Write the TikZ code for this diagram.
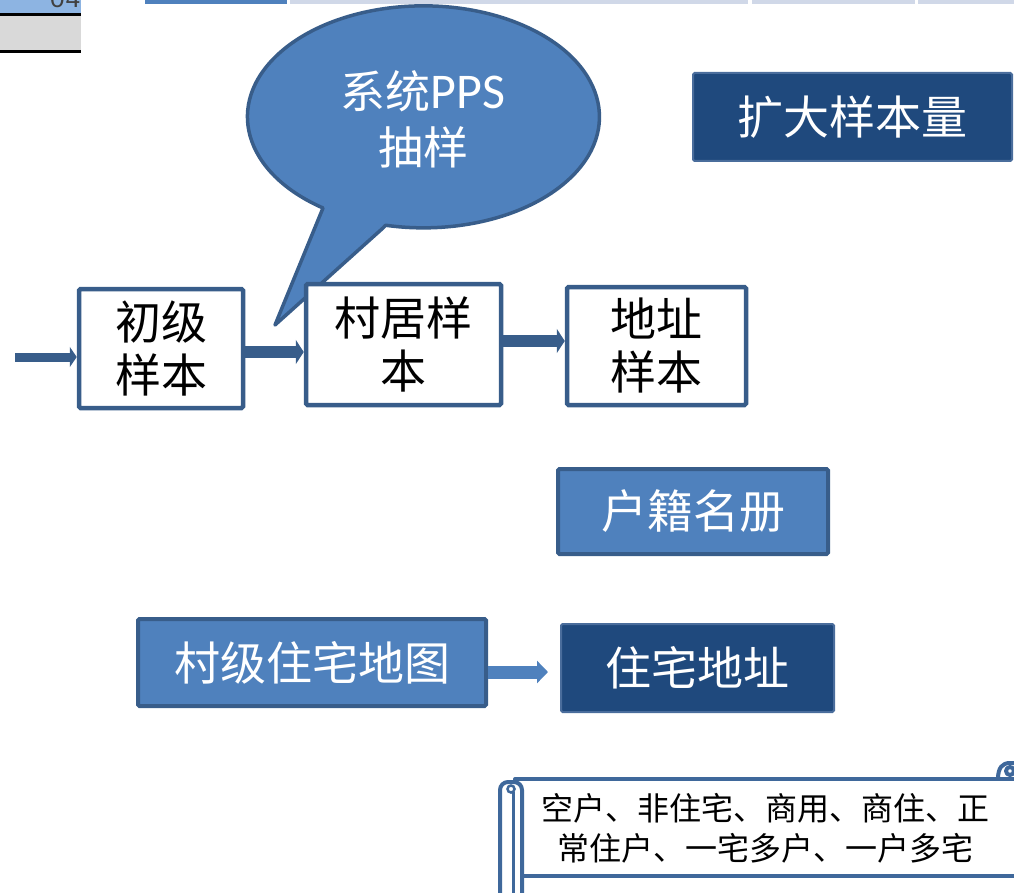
\documentclass[tikz,border=0pt]{standalone}
\usepackage{fontspec}
\setmainfont{Noto Sans CJK SC}
\newfontfamily\lat{Carlito}
\newfontfamily\mono{Liberation Mono}
\usetikzlibrary{arrows.meta,calc}
\definecolor{bdr}{HTML}{385D8A}
\definecolor{mid}{HTML}{4F81BD}
\definecolor{dk}{HTML}{1F497D}
\definecolor{dkline}{HTML}{4A6D9C}
\definecolor{cellblue}{HTML}{8DB4E2}
\definecolor{cellgray}{HTML}{D9D9D9}
\definecolor{barlight}{HTML}{D0D8E8}
\definecolor{scrollc}{HTML}{3F689B}
\tikzset{
  big/.style={font=\fontsize{46}{53}\selectfont, align=center, inner sep=0pt},
  wbox/.style={big, draw=bdr, line width=4.5pt, fill=white, text=black, rounded corners=1.5pt},
  lbox/.style={big, draw=bdr, line width=4pt, fill=mid, text=white, rounded corners=1.5pt},
  dbox/.style={big, draw=dkline, line width=2pt, fill=dk, text=white, rounded corners=1.5pt},
  flowa/.style={draw=bdr, line width=9pt, -{Triangle[length=7pt,width=20pt]}},
  flowb/.style={draw=bdr, line width=12pt, -{Triangle[length=8pt,width=24pt]}},
  flowc/.style={draw=mid, line width=13pt, -{Triangle[length=11pt,width=22pt]}},
  scrollline/.style={draw=scrollc, line width=4pt, fill=white, line join=round},
}
\begin{document}
\begin{tikzpicture}[x=1pt,y=-1pt]
\useasboundingbox (0,0) rectangle (1014,893);
% remnants of the slide above
\fill[cellblue] (0,-10) rectangle (81,13);
\node[anchor=south east, inner sep=0pt, font=\fontsize{26}{26}\selectfont\mono, text=black!75] (cellnum) at (81,8) {04};
\fill[cellgray] (0,16) rectangle (81,50);
\fill[black] (0,13) rectangle (81,16);
\fill[black] (0,50) rectangle (81,53);
\fill[mid] (145,0) rectangle (287,4);
\fill[barlight] (290,0) rectangle (748,4);
\fill[barlight] (752,0) rectangle (915,4);
\fill[barlight] (918,0) rectangle (1014,4);
% speech bubble
\draw[fill=mid, draw=bdr, line width=3.5pt, line join=round]
  (383,228) -- (275,325) -- (323,208)
  arc[start angle=124.8, end angle=462.4, x radius=176, y radius=111] -- cycle;
\node[big, text=white, font=\fontsize{45}{56}\selectfont] (bub) at (423,119) {系统{\lat\fontsize{50}{56}\selectfont PPS}\\抽样};
% row of boxes
\node[wbox, minimum width=164pt, minimum height=119pt] (b1) at (161,348.5) {初级\\样本};
\node[wbox, minimum width=195pt, minimum height=121pt] (b2) at (403.5,344.5) {村居样\\本};
\node[wbox, minimum width=179pt, minimum height=118pt] (b3) at (656.5,346) {地址\\样本};
\coordinate (in) at (15,357);
\draw[flowa] (in) -- (in -| b1.west);
\coordinate (m1) at ($(b1.east)+(0,3.5)$);
\draw[flowb] (m1) -- (m1 -| b2.west);
\coordinate (m2) at ($(b2.east)+(0,-3.5)$);
\draw[flowb] (m2) -- (m2 -| b3.west);
% other boxes
\node[dbox, minimum width=319pt, minimum height=88pt] (kd) at (852.5,117) {扩大样本量};
\node[lbox, minimum width=270pt, minimum height=85pt] (hj) at (693,511.5) {户籍名册};
\node[lbox, minimum width=348pt, minimum height=87pt] (map) at (312,662.5) {村级住宅地图};
\node[dbox, minimum width=273pt, minimum height=88pt] (addr) at (697.5,668) {住宅地址};
\coordinate (m3) at ($(map.east)+(0,9.5)$);
\draw[flowc] (m3) -- ($(m3 -| addr.west)+(-12,0)$);
% scroll
\draw[scrollline] (998,779) .. controls (998,768) and (1002,763) .. (1010,763) -- (1030,763) -- (1030,779) -- cycle;
\draw[scrollline] (1010,771) circle[radius=4];
\draw[scrollline] (515,779) rectangle (1030,876);
\draw[scrollline, rounded corners=8pt] (500,905) -- (500,782) -- (522,782) -- (522,905);
\draw[draw=scrollc, line width=3pt] (513,792) -- (513,905);
\draw[draw=scrollc, line width=2.5pt] (511,789) circle[radius=3.5];
\node[align=center, inner sep=0pt, font=\fontsize{32}{40}\selectfont] (note) at (765,828) {空户、非住宅、商用、商住、正\\常住户、一宅多户、一户多宅};
\end{tikzpicture}
\end{document}
